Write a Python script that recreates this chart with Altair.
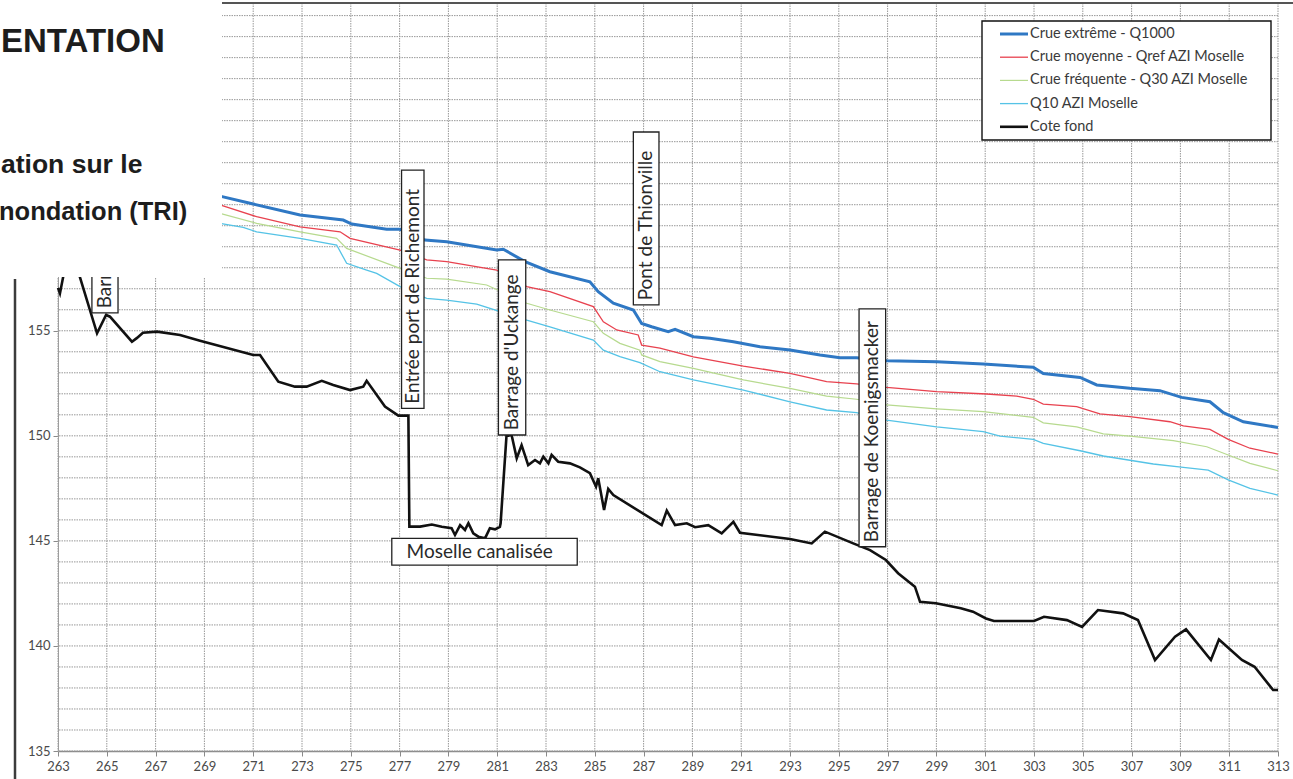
import altair as alt
import pandas as pd

# Longitudinal profile of the Moselle between PK 263 and PK 313 (levels in m)
SERIES = [
    "Crue extrême - Q1000",
    "Crue moyenne - Qref AZI Moselle",
    "Crue fréquente - Q30 AZI Moselle",
    "Q10 AZI Moselle",
    "Cote fond",
]
COLORS = ["#2f78c4", "#e8424f", "#b7da8f", "#55c3e6", "#111111"]
WIDTHS = [3.0, 1.3, 1.2, 1.3, 2.6]

# (PK km, level m)
q1000 = [(263.0, 163.27), (269.64, 161.41), (270.87, 161.07), (272.92, 160.51), (274.69, 160.27),
         (275.04, 160.08), (276.47, 159.83), (277.02, 159.83), (278.04, 159.32), (278.93, 159.24),
         (280.98, 158.84), (281.25, 158.88), (282.14, 158.29), (283.16, 157.81), (284.80, 157.33),
         (285.14, 156.86), (285.76, 156.31), (286.58, 155.99), (286.92, 155.35), (287.33, 155.19),
         (288.01, 154.96), (288.29, 155.07), (289.04, 154.72), (289.72, 154.64), (290.68, 154.48),
         (291.77, 154.24), (293.0, 154.08), (294.23, 153.85), (295.05, 153.72), (295.73, 153.72),
         (296.96, 153.57), (299.01, 153.53), (300.92, 153.42), (302.97, 153.26), (303.38, 152.97),
         (304.89, 152.78), (305.57, 152.42), (306.93, 152.26), (308.16, 152.15), (309.05, 151.83),
         (310.21, 151.62), (310.76, 151.10), (311.58, 150.67), (313.0, 150.40)]

qref = [(263.0, 163.07), (269.64, 160.99), (271.14, 160.43), (272.92, 159.95), (274.56, 159.71),
        (274.97, 159.40), (277.02, 158.84), (278.11, 158.37), (278.93, 158.29), (280.98, 157.89),
        (282.21, 157.10), (283.16, 156.86), (284.94, 156.15), (285.35, 155.43), (285.90, 155.04),
        (286.78, 154.80), (286.92, 154.32), (287.67, 154.17), (289.04, 153.76), (291.09, 153.32),
        (293.0, 152.97), (294.50, 152.58), (295.73, 152.47), (296.96, 152.31), (299.01, 152.10),
        (301.06, 151.99), (302.29, 151.89), (302.97, 151.74), (303.38, 151.51), (304.75, 151.39),
        (305.70, 151.04), (306.93, 150.91), (308.57, 150.67), (309.12, 150.47), (310.21, 150.31),
        (310.96, 149.83), (311.85, 149.41), (313.0, 149.13)]

q30 = [(263.0, 162.37), (269.64, 160.59), (271.14, 160.11), (272.92, 159.71), (274.42, 159.40),
       (274.83, 158.92), (276.47, 158.21), (277.02, 157.97), (278.11, 157.50), (278.93, 157.46),
       (280.57, 157.18), (282.21, 156.31), (283.16, 155.99), (284.94, 155.43), (285.35, 154.88),
       (286.03, 154.40), (286.85, 154.08), (286.92, 153.85), (287.67, 153.53), (289.04, 153.21),
       (291.09, 152.66), (293.0, 152.26), (294.50, 151.89), (295.73, 151.74), (296.96, 151.47),
       (299.01, 151.28), (300.92, 151.15), (302.97, 150.88), (303.38, 150.62), (304.75, 150.43),
       (305.84, 150.09), (306.93, 149.99), (308.71, 149.77), (310.08, 149.48), (310.96, 149.09),
       (311.85, 148.69), (313.0, 148.34)]

q10 = [(263.0, 161.56), (269.64, 160.11), (270.59, 159.92), (271.14, 159.71), (272.92, 159.40),
       (274.42, 159.08), (274.83, 158.21), (275.65, 157.89), (276.06, 157.73), (277.02, 157.10),
       (278.11, 156.54), (278.93, 156.46), (280.16, 156.27), (282.21, 155.51), (283.16, 155.19),
       (284.94, 154.56), (285.35, 154.08), (286.03, 153.77), (286.85, 153.48), (287.67, 153.05),
       (289.04, 152.66), (291.09, 152.18), (293.0, 151.62), (294.50, 151.23), (295.73, 151.10),
       (296.96, 150.75), (299.01, 150.43), (300.92, 150.20), (301.61, 149.99), (302.97, 149.83),
       (303.38, 149.64), (304.89, 149.29), (305.84, 149.04), (307.89, 148.66), (309.12, 148.50),
       (310.14, 148.37), (310.96, 147.90), (311.85, 147.50), (313.0, 147.18)]

cote_fond = [(263.00, 157.04), (263.08, 156.78), (263.33, 158.27), (263.66, 158.46), (264.60, 154.88),
             (264.97, 155.75), (265.13, 155.67), (266.03, 154.48), (266.24, 154.66), (266.48, 154.91),
             (267.06, 154.96), (268.00, 154.80), (268.82, 154.53), (271.00, 153.85), (271.28, 153.85),
             (272.03, 152.58), (272.71, 152.34), (273.19, 152.34), (273.81, 152.62), (274.28, 152.42),
             (274.97, 152.18), (275.51, 152.34), (275.65, 152.62), (276.40, 151.39), (276.95, 150.96),
             (277.36, 150.96), (277.40, 145.68), (277.84, 145.68), (278.32, 145.78), (278.73, 145.67),
             (279.13, 145.60), (279.27, 145.28), (279.48, 145.75), (279.68, 145.52), (279.82, 145.84),
             (280.02, 145.36), (280.23, 145.20), (280.50, 145.12), (280.70, 145.60), (280.91, 145.55),
             (281.11, 145.67), (281.14, 145.84), (281.38, 149.99), (281.59, 150.04), (281.80, 148.93),
             (282.00, 149.56), (282.27, 148.61), (282.55, 148.85), (282.75, 148.69), (282.89, 149.01),
             (283.10, 148.69), (283.23, 149.09), (283.50, 148.77), (283.98, 148.69), (284.39, 148.50),
             (284.80, 148.22), (285.05, 147.58), (285.14, 147.98), (285.38, 146.47), (285.55, 147.47),
             (285.76, 147.18), (287.74, 145.75), (287.95, 146.44), (288.29, 145.75), (288.77, 145.84),
             (289.11, 145.65), (289.65, 145.75), (290.20, 145.36), (290.68, 145.91), (290.95, 145.39),
             (293.00, 145.09), (293.89, 144.88), (294.43, 145.44), (295.59, 144.88), (296.28, 144.56),
             (296.93, 144.09), (297.43, 143.46), (298.12, 142.82), (298.33, 142.10), (298.98, 142.03),
             (300.00, 141.79), (300.50, 141.63), (301.03, 141.31), (301.36, 141.19), (303.00, 141.19),
             (303.41, 141.39), (304.35, 141.23), (304.97, 140.91), (305.62, 141.71), (306.65, 141.55),
             (307.26, 141.23), (307.96, 139.33), (308.78, 140.44), (309.23, 140.79), (310.25, 139.33),
             (310.58, 140.31), (311.52, 139.33), (312.04, 139.01), (312.80, 137.90), (313.00, 137.90)]

# Vertical callouts: label, PK left/right edge, level top/bottom of the box
ann_labels = ["Barrage", "Entrée port de Richemont", "Barrage d'Uckange",
              "Pont de Thionville", "Barrage de Koenigsmacker"]
ann_km0 = [264.39, 277.08, 281.05, 286.58, 295.83]
ann_km1 = [265.46, 278.00, 282.17, 287.63, 296.92]
ann_top = [159.60, 162.65, 158.37, 164.46, 156.04]
ann_bot = [155.85, 151.31, 150.04, 156.23, 144.72]

# Horizontal callout for the canalised reach
canal_label = "Moselle canalisée"
canal_km = [276.68, 284.28]
canal_z = [145.12, 143.85]

pk_ticks = list(range(263, 314, 2))
z_ticks = list(range(135, 156, 5))
z_grid = list(range(135, 171))

# ---------------------------------------------------------------------------
W, H = 1220, 748
x_scale = alt.Scale(domain=[263, 313], nice=False, zero=False)
y_scale = alt.Scale(domain=[135, 170.6], nice=False, zero=False)

x_axis = alt.Axis(values=pk_ticks, grid=False, title="", domainColor="#8a8a8a", domainWidth=1.5,
                  tickColor="#8a8a8a", tickSize=5, labelFont="Lato", labelFontSize=13,
                  labelColor="#4a4a4a", labelPadding=4, labelFlush=False, labelOverlap=False)
y_axis = alt.Axis(values=z_ticks, grid=False, title="", domainColor="#a0a0a0", tickColor="#8a8a8a",
                  tickSize=5, labelFont="Lato", labelFontSize=13, labelColor="#4a4a4a",
                  labelPadding=3, labelFlush=False, labelOverlap=False)


def X(field):
    return alt.X(field, scale=x_scale, axis=x_axis)


def Y(field):
    return alt.Y(field, scale=y_scale, axis=y_axis)


GRID = dict(color="#989898", strokeWidth=1, strokeDash=[1.5, 1])

grid_v = alt.Chart(pd.DataFrame({"km": pk_ticks})).mark_rule(**GRID).encode(x=X("km:Q"))
grid_h = alt.Chart(pd.DataFrame({"z": z_grid})).mark_rule(**GRID).encode(y=Y("z:Q"))

rows = []
for name, pts in zip(SERIES, [q1000, qref, q30, q10, cote_fond]):
    for i, (km, z) in enumerate(pts):
        rows.append({"series": name, "km": km, "z": z, "i": i})
profile = pd.DataFrame(rows)

# light lines first, the Q1000 line over them, the river bed on top
line_layers = []
for idx in [3, 2, 1, 0, 4]:
    line_layers.append(
        alt.Chart(profile[profile.series == SERIES[idx]]).mark_line(
            color=COLORS[idx], strokeWidth=WIDTHS[idx]).encode(
            x=X("km:Q"), y=Y("z:Q"), order="i:Q"))

ann = pd.DataFrame({"label": ann_labels, "km0": ann_km0, "km1": ann_km1,
                    "top": ann_top, "bot": ann_bot})
ann["kmc"] = (ann.km0 + ann.km1) / 2
ann["zt"] = ann.bot + 0.22

ann_box = alt.Chart(ann).mark_rect(fill="white", stroke="#222222", strokeWidth=1.3).encode(
    x=X("km0:Q"), x2="km1:Q", y=Y("top:Q"), y2="bot:Q")
ann_txt = alt.Chart(ann).mark_text(angle=270, align="left", baseline="middle", font="Lato",
                                   fontSize=19, color="#2a2a2a").encode(
    x=X("kmc:Q"), y=Y("zt:Q"), text="label:N")

canal = pd.DataFrame({"label": [canal_label], "km0": [canal_km[0]], "km1": [canal_km[1]],
                      "top": [canal_z[0]], "bot": [canal_z[1]]})
canal["kmc"] = (canal.km0 + canal.km1) / 2 - 0.2
canal["zc"] = (canal.top + canal.bot) / 2
canal_box = alt.Chart(canal).mark_rect(fill="white", stroke="#222222", strokeWidth=1.3).encode(
    x=X("km0:Q"), x2="km1:Q", y=Y("top:Q"), y2="bot:Q")
canal_txt = alt.Chart(canal).mark_text(align="center", baseline="middle", font="Lato",
                                       fontSize=19, color="#2a2a2a").encode(
    x=X("kmc:Q"), y=Y("zc:Q"), text="label:N")

one = pd.DataFrame({"a": [0]})

# Legend box (top right)
legend_layers = [
    alt.Chart(one).mark_rect(fill="white", stroke="#111111", strokeWidth=1.4).encode(
        x=alt.value(924), x2=alt.value(1213), y=alt.value(18), y2=alt.value(137))
]
for k, (name, col, w) in enumerate(zip(SERIES, COLORS, WIDTHS)):
    yy = 31 + 23.2 * k
    legend_layers.append(
        alt.Chart(one).mark_rule(color=col, strokeWidth=w).encode(
            x=alt.value(942), x2=alt.value(970), y=alt.value(yy)))
    legend_layers.append(
        alt.Chart(one).mark_text(align="left", baseline="middle", font="Lato", fontSize=14.5,
                                 color="#3a3a3a").encode(
            x=alt.value(972), y=alt.value(yy), text=alt.value(name)))

# Slide fragment lying over the top-left corner of the graph
slide_layers = [
    alt.Chart(one).mark_rect(fill="white").encode(
        x=alt.value(-60), x2=alt.value(164), y=alt.value(-5), y2=alt.value(274)),
    alt.Chart(one).mark_rule(color="#3c3c3c", strokeWidth=2.5).encode(
        x=alt.value(-43), y=alt.value(276), y2=alt.value(790)),
    alt.Chart(one).mark_rule(color="#555555", strokeWidth=2).encode(
        x=alt.value(164), x2=alt.value(1240), y=alt.value(0)),
    alt.Chart(one).mark_text(align="left", baseline="alphabetic", font="Liberation Sans",
                             fontWeight="bold", fontSize=33, color="#1d1d1d").encode(
        x=alt.value(-57), y=alt.value(48.5), text=alt.value("ENTATION")),
    alt.Chart(one).mark_text(align="left", baseline="alphabetic", font="Liberation Sans",
                             fontWeight="bold", fontSize=26.5, color="#1d1d1d").encode(
        x=alt.value(-57), y=alt.value(170), text=alt.value("ation sur le")),
    alt.Chart(one).mark_text(align="left", baseline="alphabetic", font="Liberation Sans",
                             fontWeight="bold", fontSize=25.5, color="#1d1d1d").encode(
        x=alt.value(-59), y=alt.value(216.5), text=alt.value("nondation (TRI)")),
]

chart = alt.layer(
    grid_v, grid_h, *line_layers, ann_box, ann_txt, canal_box, canal_txt,
    *legend_layers, *slide_layers
).properties(
    width=W, height=H,
    padding={"left": 58, "top": 3, "right": 15, "bottom": 28},
    autosize=alt.AutoSizeParams(type="none"),
    background="white",
).configure_view(strokeWidth=0)

chart.save("out.html", embed_options={"renderer": "svg", "actions": False})
